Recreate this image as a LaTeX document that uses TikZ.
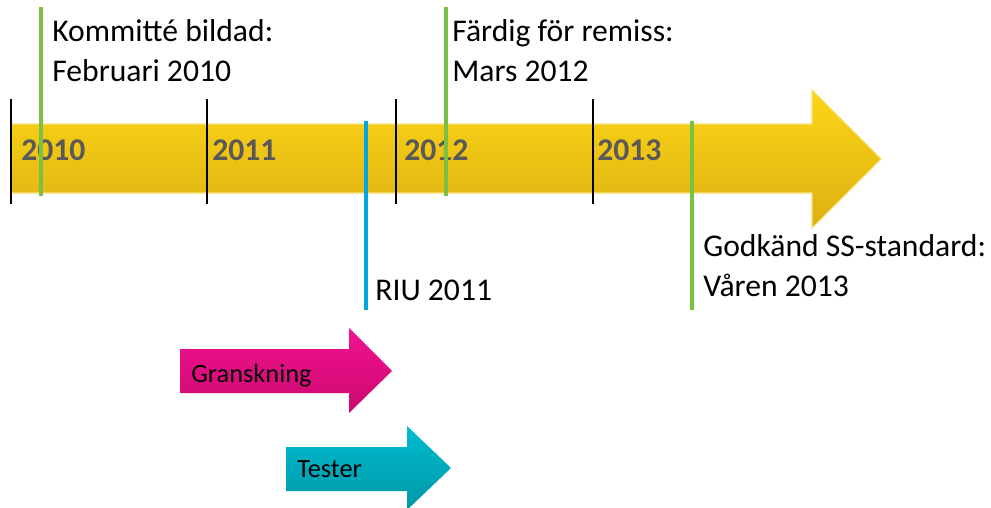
\documentclass[tikz,border=0pt]{standalone}
\usepackage{fontspec}
\setmainfont{Carlito}

\definecolor{goldtop}{HTML}{FCD617}
\definecolor{goldbot}{HTML}{DDB012}
\definecolor{goldedge}{HTML}{FBE07A}
\definecolor{pinktop}{HTML}{F2138F}
\definecolor{pinkbot}{HTML}{CC0870}
\definecolor{tealtop}{HTML}{00BDD0}
\definecolor{tealbot}{HTML}{0096A6}
\definecolor{milegreen}{HTML}{7AC143}
\definecolor{riublue}{HTML}{00A6E0}
\definecolor{yeargray}{HTML}{595959}

\begin{document}
\begin{tikzpicture}[
		year/.style={font=\fontsize{18}{22}\selectfont\bfseries, text=yeargray, anchor=base west, inner sep=0pt},
		note/.style={font=\fontsize{18}{22.2}\selectfont, align=left, anchor=base west, inner sep=0pt},
		phase/.style={font=\fontsize{15}{18}\selectfont, anchor=base west, inner sep=0pt},
		yearline/.style={black, line width=1.1pt},
		milestone/.style={milegreen, line width=1.9pt}]
		\useasboundingbox (0,0) rectangle (19.82,-10.16);
		
		% timeline
		\shadedraw[top color=goldtop, bottom color=goldbot, draw=goldedge, line width=0.6pt]
			(0.22,-2.48) -- (16.24,-2.48) -- (16.24,-1.80) -- (17.62,-3.18) -- (16.24,-4.56) -- (16.24,-3.86) -- (0.22,-3.86) -- cycle;
		
		\foreach \x in {0.22,4.14,7.92,11.86}
			\draw[yearline] (\x,-1.98) -- (\x,-4.08);
		
		\foreach \x/\yr in {0.42/2010, 4.24/2011, 8.08/2012, 11.94/2013}
			\node[year] (y\yr) at (\x,-3.2) {\yr};
		
		\draw[milestone] (0.82,-0.14) -- (0.82,-3.92);
		\draw[milestone] (8.92,-0.14) -- (8.92,-3.92);
		\draw[milestone] (13.84,-2.42) -- (13.84,-6.20);
		\draw[riublue, line width=1.9pt] (7.32,-2.42) -- (7.32,-6.20);
		
		% notes (base = last line)
		\node[note] (komm) at (1.04,-1.62) {Kommitté bildad:\\Februari 2010};
		\node[note] (remiss) at (9.04,-1.62) {Färdig för remiss:\\Mars 2012};
		\node[note] (riu) at (7.50,-6.00) {RIU 2011};
		\node[note] (godk) at (14.06,-5.92) {Godkänd SS-standard:\\Våren 2013};
		
		% phases
		\shade[top color=pinktop, bottom color=pinkbot]
			(3.60,-6.98) -- (6.98,-6.98) -- (6.98,-6.56) -- (7.84,-7.42) -- (6.98,-8.26) -- (6.98,-7.86) -- (3.60,-7.86) -- cycle;
		\node[phase] (gransk) at (3.82,-7.64) {Granskning};
		
		\shade[top color=tealtop, bottom color=tealbot]
			(5.72,-8.94) -- (8.14,-8.94) -- (8.14,-8.52) -- (9.02,-9.36) -- (8.14,-10.20) -- (8.14,-9.82) -- (5.72,-9.82) -- cycle;
		\node[phase] (test) at (5.94,-9.54) {Tester};
	\end{tikzpicture}
\end{document}
